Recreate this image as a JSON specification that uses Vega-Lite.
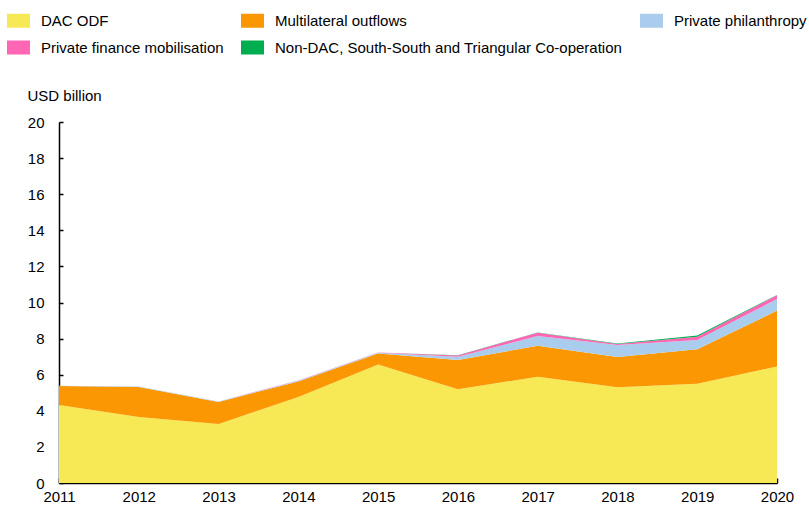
{
  "$schema": "https://vega.github.io/schema/vega-lite/v6.json",
  "width": 718,
  "height": 361,
  "autosize": {"type": "none"},
  "padding": {"left": 59, "top": 122, "right": 32, "bottom": 23},
  "background": "white",
  "config": {
    "view": {"stroke": null},
    "font": "Liberation Sans",
    "axis": {"labelFont": "Liberation Sans", "titleFont": "Liberation Sans", "labelColor": "#000", "titleColor": "#000", "domainColor": "#000", "tickColor": "#000"},
    "legend": {"labelFont": "Liberation Sans"}
  },
  "data": {
    "values": [
      {"year": 2011, "k": 1, "s": "DAC ODF", "v": 4.32},
      {"year": 2012, "k": 1, "s": "DAC ODF", "v": 3.66},
      {"year": 2013, "k": 1, "s": "DAC ODF", "v": 3.27},
      {"year": 2014, "k": 1, "s": "DAC ODF", "v": 4.76},
      {"year": 2015, "k": 1, "s": "DAC ODF", "v": 6.57},
      {"year": 2016, "k": 1, "s": "DAC ODF", "v": 5.19},
      {"year": 2017, "k": 1, "s": "DAC ODF", "v": 5.89},
      {"year": 2018, "k": 1, "s": "DAC ODF", "v": 5.30},
      {"year": 2019, "k": 1, "s": "DAC ODF", "v": 5.50},
      {"year": 2020, "k": 1, "s": "DAC ODF", "v": 6.45},
      {"year": 2011, "k": 2, "s": "Multilateral outflows", "v": 1.05},
      {"year": 2012, "k": 2, "s": "Multilateral outflows", "v": 1.66},
      {"year": 2013, "k": 2, "s": "Multilateral outflows", "v": 1.22},
      {"year": 2014, "k": 2, "s": "Multilateral outflows", "v": 0.87},
      {"year": 2015, "k": 2, "s": "Multilateral outflows", "v": 0.61},
      {"year": 2016, "k": 2, "s": "Multilateral outflows", "v": 1.62},
      {"year": 2017, "k": 2, "s": "Multilateral outflows", "v": 1.72},
      {"year": 2018, "k": 2, "s": "Multilateral outflows", "v": 1.68},
      {"year": 2019, "k": 2, "s": "Multilateral outflows", "v": 1.91},
      {"year": 2020, "k": 2, "s": "Multilateral outflows", "v": 3.10},
      {"year": 2011, "k": 3, "s": "Private philanthropy", "v": 0.02},
      {"year": 2012, "k": 3, "s": "Private philanthropy", "v": 0.02},
      {"year": 2013, "k": 3, "s": "Private philanthropy", "v": 0.03},
      {"year": 2014, "k": 3, "s": "Private philanthropy", "v": 0.04},
      {"year": 2015, "k": 3, "s": "Private philanthropy", "v": 0.03},
      {"year": 2016, "k": 3, "s": "Private philanthropy", "v": 0.19},
      {"year": 2017, "k": 3, "s": "Private philanthropy", "v": 0.53},
      {"year": 2018, "k": 3, "s": "Private philanthropy", "v": 0.67},
      {"year": 2019, "k": 3, "s": "Private philanthropy", "v": 0.51},
      {"year": 2020, "k": 3, "s": "Private philanthropy", "v": 0.64},
      {"year": 2011, "k": 4, "s": "Private finance mobilisation", "v": 0.0},
      {"year": 2012, "k": 4, "s": "Private finance mobilisation", "v": 0.0},
      {"year": 2013, "k": 4, "s": "Private finance mobilisation", "v": 0.0},
      {"year": 2014, "k": 4, "s": "Private finance mobilisation", "v": 0.01},
      {"year": 2015, "k": 4, "s": "Private finance mobilisation", "v": 0.02},
      {"year": 2016, "k": 4, "s": "Private finance mobilisation", "v": 0.07},
      {"year": 2017, "k": 4, "s": "Private finance mobilisation", "v": 0.19},
      {"year": 2018, "k": 4, "s": "Private finance mobilisation", "v": 0.05},
      {"year": 2019, "k": 4, "s": "Private finance mobilisation", "v": 0.18},
      {"year": 2020, "k": 4, "s": "Private finance mobilisation", "v": 0.21},
      {"year": 2011, "k": 5, "s": "Non-DAC, South-South and Triangular Co-operation", "v": 0.0},
      {"year": 2012, "k": 5, "s": "Non-DAC, South-South and Triangular Co-operation", "v": 0.0},
      {"year": 2013, "k": 5, "s": "Non-DAC, South-South and Triangular Co-operation", "v": 0.0},
      {"year": 2014, "k": 5, "s": "Non-DAC, South-South and Triangular Co-operation", "v": 0.0},
      {"year": 2015, "k": 5, "s": "Non-DAC, South-South and Triangular Co-operation", "v": 0.0},
      {"year": 2016, "k": 5, "s": "Non-DAC, South-South and Triangular Co-operation", "v": 0.01},
      {"year": 2017, "k": 5, "s": "Non-DAC, South-South and Triangular Co-operation", "v": 0.01},
      {"year": 2018, "k": 5, "s": "Non-DAC, South-South and Triangular Co-operation", "v": 0.03},
      {"year": 2019, "k": 5, "s": "Non-DAC, South-South and Triangular Co-operation", "v": 0.07},
      {"year": 2020, "k": 5, "s": "Non-DAC, South-South and Triangular Co-operation", "v": 0.02}
    ]
  },
  "mark": {"type": "area", "strokeWidth": 0},
  "encoding": {
    "x": {
      "field": "year",
      "type": "quantitative",
      "scale": {"domain": [2011, 2020], "nice": false, "zero": false},
      "axis": {
        "title": null,
        "values": [2011, 2012, 2013, 2014, 2015, 2016, 2017, 2018, 2019, 2020],
        "format": "d",
        "grid": false,
        "labelFontSize": 15,
        "labelFlush": false,
        "tickSize": -5,
        "tickWidth": 1.5,
        "domainWidth": 1.5,
        "labelPadding": 11,
        "labelBaseline": "top"
      }
    },
    "y": {
      "field": "v",
      "type": "quantitative",
      "stack": "zero",
      "scale": {"domain": [0, 20], "nice": false},
      "axis": {
        "title": "USD billion",
        "titleAngle": 0,
        "titleAlign": "left",
        "titleBaseline": "middle",
        "titleX": -32,
        "titleY": -27,
        "titleFontSize": 15,
        "titleFontWeight": "normal",
        "values": [0, 2, 4, 6, 8, 10, 12, 14, 16, 18, 20],
        "grid": false,
        "labelFontSize": 15,
        "tickSize": -4,
        "tickWidth": 1.5,
        "domainWidth": 1.5,
        "labelPadding": 19
      }
    },
    "color": {
      "field": "s",
      "type": "nominal",
      "scale": {
        "domain": ["DAC ODF", "Multilateral outflows", "Private philanthropy", "Private finance mobilisation", "Non-DAC, South-South and Triangular Co-operation"],
        "range": ["#F7E956", "#FA9703", "#ABCDED", "#FF66B3", "#00AD4F"]
      },
      "legend": {
        "title": null,
        "orient": "none",
        "legendX": -48,
        "legendY": -109,
        "direction": "horizontal",
        "columns": 3,
        "gridAlign": "each",
        "columnPadding": 17,
        "rowPadding": 11,
        "padding": 0,
        "symbolType": "M-1.64,-1H1.64V1H-1.64Z",
        "symbolSize": 196,
        "symbolStrokeWidth": 0,
        "symbolOpacity": 1,
        "labelFontSize": 15,
        "labelOffset": 15,
        "labelLimit": 500,
        "labelColor": "#000"
      }
    },
    "order": {"field": "k", "type": "quantitative"}
  }
}
